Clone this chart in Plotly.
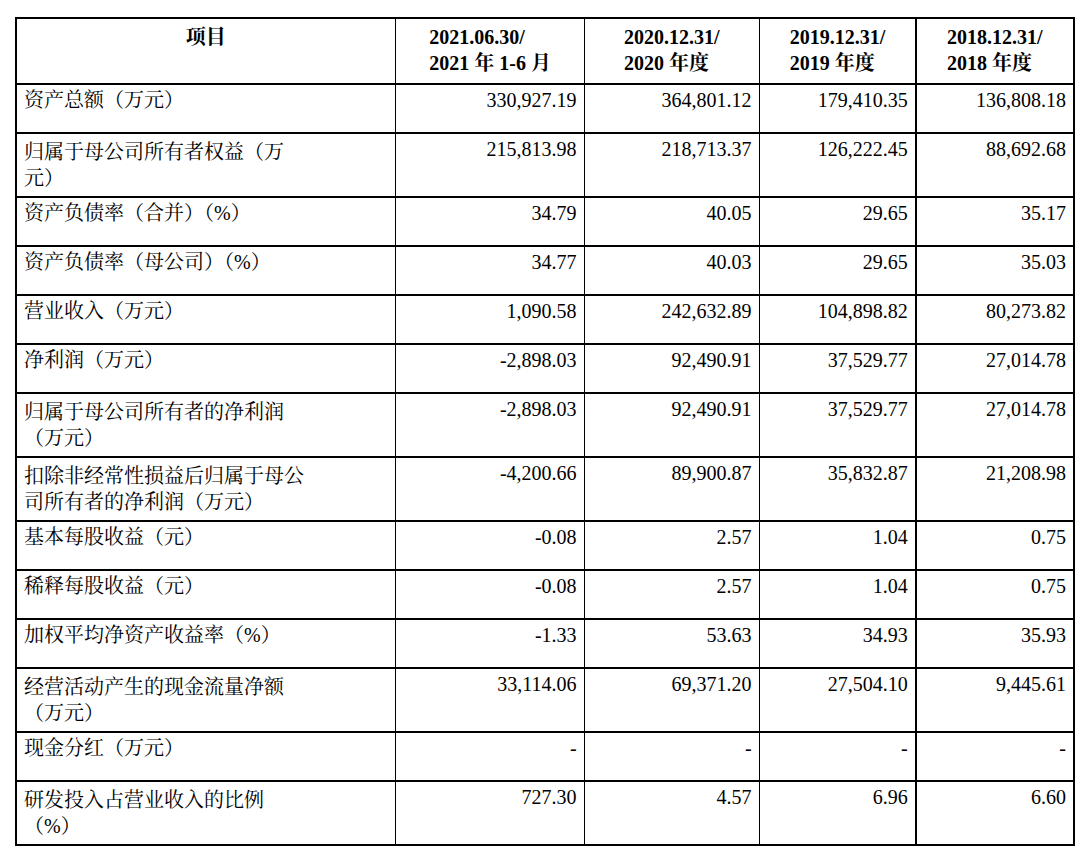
import plotly.graph_objects as go

headers = ["<b>项目</b>", "<b>2021.06.30/<br>2021 年 1-6 月</b>", "<b>2020.12.31/<br>2020 年度</b>",
           "<b>2019.12.31/<br>2019 年度</b>", "<b>2018.12.31/<br>2018 年度</b>"]
items = ["资产总额（万元）", "归属于母公司所有者权益（万<br>元）", "资产负债率（合并）（%）",
         "资产负债率（母公司）（%）", "营业收入（万元）", "净利润（万元）",
         "归属于母公司所有者的净利润<br>（万元）", "扣除非经常性损益后归属于母公<br>司所有者的净利润（万元）",
         "基本每股收益（元）", "稀释每股收益（元）", "加权平均净资产收益率（%）",
         "经营活动产生的现金流量净额<br>（万元）", "现金分红（万元）", "研发投入占营业收入的比例<br>（%）"]
col_2021 = ["330,927.19", "215,813.98", "34.79", "34.77", "1,090.58", "-2,898.03", "-2,898.03",
            "-4,200.66", "-0.08", "-0.08", "-1.33", "33,114.06", "-", "727.30"]
col_2020 = ["364,801.12", "218,713.37", "40.05", "40.03", "242,632.89", "92,490.91", "92,490.91",
            "89,900.87", "2.57", "2.57", "53.63", "69,371.20", "-", "4.57"]
col_2019 = ["179,410.35", "126,222.45", "29.65", "29.65", "104,898.82", "37,529.77", "37,529.77",
            "35,832.87", "1.04", "1.04", "34.93", "27,504.10", "-", "6.96"]
col_2018 = ["136,808.18", "88,692.68", "35.17", "35.03", "80,273.82", "27,014.78", "27,014.78",
            "21,208.98", "0.75", "0.75", "35.93", "9,445.61", "-", "6.60"]

font_family = "Liberation Serif, Times New Roman, Noto Serif CJK SC, Noto Sans CJK SC, serif"

fig = go.Figure(go.Table(
    columnwidth=[384, 191, 177, 158, 160],
    header=dict(values=headers, align="center", height=66,
                line=dict(color="black", width=1.5), fill_color="white",
                font=dict(family=font_family, size=20, color="black")),
    cells=dict(values=[items, col_2021, col_2020, col_2019, col_2018],
               align=["left", "right", "right", "right", "right"], height=49,
               line=dict(color="black", width=1.5), fill_color="white",
               font=dict(family=font_family, size=20, color="black")),
))
fig.update_layout(width=1086, height=858, margin=dict(l=8, r=20, t=10, b=0),
                  paper_bgcolor="white")
fig.write_html("out.html")
